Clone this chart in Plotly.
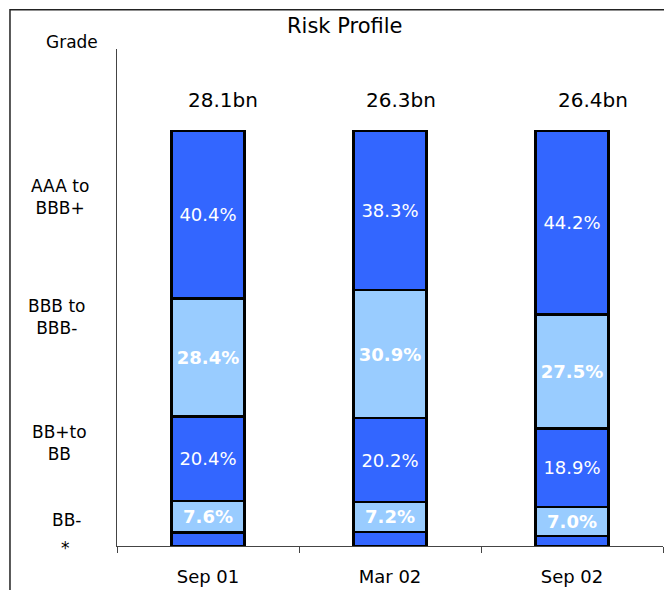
import plotly.graph_objects as go

# DATA
periods = ["Sep 01", "Mar 02", "Sep 02"]
totals = ["28.1bn", "26.3bn", "26.4bn"]
grades = ["*", "BB-", "BB+to<br>BB", "BBB to<br>BBB-", "AAA to<br>BBB+"]
share_star = [3.2, 3.4, 2.4]
share_bb_minus = [7.6, 7.2, 7.0]
share_bb = [20.4, 20.2, 18.9]
share_bbb = [28.4, 30.9, 27.5]
share_aaa = [40.4, 38.3, 44.2]

DARK = "#3366FF"
LIGHT = "#99CCFF"
FONT = "DejaVu Sans"

series = [
    (share_star, DARK, None, False),
    (share_bb_minus, LIGHT, "%{y:.1f}%", True),
    (share_bb, DARK, "%{y:.1f}%", False),
    (share_bbb, LIGHT, "%{y:.1f}%", True),
    (share_aaa, DARK, "%{y:.1f}%", False),
]

fig = go.Figure()
for vals, col, tmpl, bold in series:
    fig.add_trace(go.Bar(
        x=periods, y=vals,
        marker=dict(color=col, line=dict(color="black", width=2.5)),
        texttemplate=tmpl if tmpl else "",
        textposition="inside" if tmpl else "none",
        insidetextanchor="middle",
        textangle=0,
        constraintext="none",
        textfont=dict(color="white", size=18,
                      family=FONT, weight="bold" if bold else "normal"),
        width=0.4,
        hoverinfo="skip",
    ))

# totals above bars (sit a little right of the bar centres in the original)
total_shift = [15, 11, 21]
for p, t, dx in zip(periods, totals, total_shift):
    fig.add_annotation(x=p, y=107.5, text=t, showarrow=False, xshift=dx,
                       font=dict(size=20, color="black", family=FONT))

# grade labels at the left (paper coords so the "*" is not hidden)
grade_x = [-0.095, -0.092, -0.105, -0.11, -0.105]
grade_y = [-0.004, 0.052, 0.207, 0.461, 0.702]
for g, gx, gy in zip(grades, grade_x, grade_y):
    fig.add_annotation(xref="paper", yref="paper", x=gx, y=gy, text=g,
                       showarrow=False, xanchor="center", yanchor="middle",
                       align="center",
                       font=dict(size=17, color="black", family=FONT))
fig.add_annotation(xref="paper", yref="paper", x=-0.082, y=1.014, text="Grade",
                   showarrow=False, xanchor="center", yanchor="middle",
                   font=dict(size=17, color="black", family=FONT))
fig.add_annotation(xref="paper", yref="paper", x=0.418, y=1.046, text="Risk Profile",
                   showarrow=False, xanchor="center", yanchor="middle",
                   font=dict(size=21, color="black", family=FONT))

# outer frame
fig.add_shape(type="rect", xref="paper", yref="paper",
              x0=-0.196, x1=1.011, y0=-0.12, y1=1.079,
              line=dict(color="#222222", width=1.5), layer="below")

# page body has an 8px margin, so the figure is shrunk by 8px each way
fig.update_layout(
    barmode="stack",
    width=664, height=582,
    margin=dict(l=109, r=9, t=41, b=44),
    plot_bgcolor="white", paper_bgcolor="white",
    showlegend=False,
    font=dict(family=FONT, color="black"),
)
fig.update_xaxes(
    showline=True, linecolor="#444444", linewidth=1,
    ticks="outside", tickson="boundaries", ticklen=6, tickcolor="#444444",
    tickfont=dict(size=18), ticklabelstandoff=14, range=[-0.5, 2.5],
    automargin=False,
)
fig.update_yaxes(
    range=[0, 119.76], showline=True, linecolor="#444444", linewidth=1,
    showticklabels=False, showgrid=False, zeroline=False, ticks="",
    automargin=False,
)

fig.write_html("out.html")
